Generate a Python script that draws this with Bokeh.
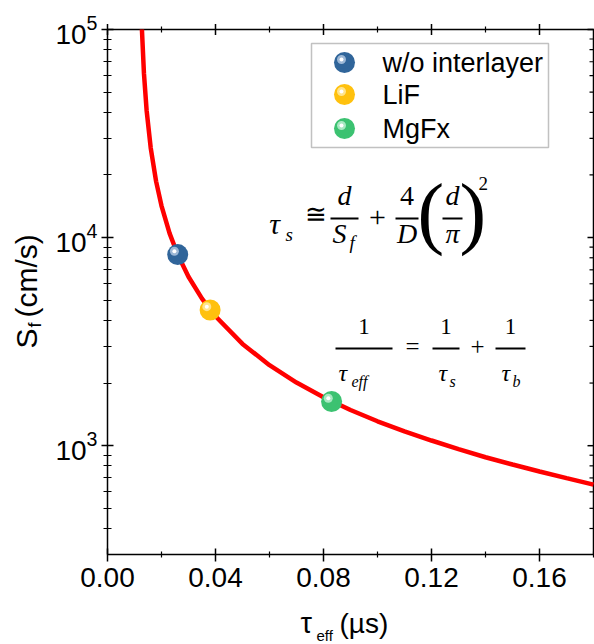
import math
from bokeh.plotting import figure
from bokeh.models import Range1d, FixedTicker, Label, BoxAnnotation, PrintfTickFormatter
from bokeh.embed import file_html
from bokeh.resources import INLINE

# ---------------- data ----------------
curve_tau = [0.01275, 0.0135, 0.0145, 0.016, 0.018, 0.020, 0.023, 0.026, 0.030, 0.035,
             0.040, 0.050, 0.060, 0.070, 0.080, 0.090, 0.100, 0.110, 0.120, 0.130,
             0.140, 0.150, 0.160, 0.170, 0.180]
curve_sf = [100000, 61500, 40700, 27000, 18630, 14210, 10480, 8290, 6480, 5090,
            4187, 3084, 2436, 2010, 1709, 1484, 1310, 1172, 1059, 962,
            880, 812, 752, 698, 650]

sample_names = ["w/o interlayer", "LiF", "MgFx"]
sample_tau = [0.026, 0.038, 0.083]
sample_sf = [8290, 4490, 1630]
sample_colors = ["#30659A", "#FFC10E", "#3CC271"]
sample_halo = ["#9DB8D6", "#FFE48C", "#A8E8C2"]

x_major = [0.0, 0.04, 0.08, 0.12, 0.16]
x_minor = [0.02, 0.06, 0.10, 0.14, 0.18]
y_major = [1e3, 1e4, 1e5]
y_minor = [400, 500, 600, 700, 800, 900,
           2000, 3000, 4000, 5000, 6000, 7000, 8000, 9000,
           20000, 30000, 40000, 50000, 60000, 70000, 80000, 90000]

X0, X1 = 0.0, 0.18
Y0, Y1 = 300, 1e5

# ---------------- layout (pixels of the 594x644 picture) ----------------
W, H = 594, 644
PL, PR, PT, PB = 107, 593, 29, 554      # plotting box edges
FW, FH = PR - PL, PB - PT

SANS = "Liberation Sans"
SERIF = "Liberation Serif"

# the frame covers the whole canvas; the axes sit at the plotting box via fixed_location
px_x = (X1 - X0) / FW
lf = math.log10(Y1 / Y0) / FH
xr = Range1d(X0 - PL * px_x, X1 + (W - PR) * px_x)
yr = Range1d(10 ** (math.log10(Y0) - (H - PB) * lf), 10 ** (math.log10(Y1) + PT * lf))

p = figure(width=W, height=H, x_range=xr, y_range=yr, y_axis_type="log",
           output_backend="svg", toolbar_location=None,
           min_border=0, min_border_left=0, min_border_right=0, min_border_top=0, min_border_bottom=0)
p.xgrid.visible = False
p.ygrid.visible = False
p.outline_line_color = None
p.background_fill_color = "white"
p.border_fill_color = "white"


def style_axis(ax, tin, tout, mtin, mtout):
    ax.axis_line_color = "black"
    ax.axis_line_width = 1.5
    ax.major_tick_line_color = "black"
    ax.major_tick_line_width = 1.5
    ax.minor_tick_line_color = "black"
    ax.minor_tick_line_width = 1.2
    ax.major_tick_in = tin
    ax.major_tick_out = tout
    ax.minor_tick_in = mtin
    ax.minor_tick_out = mtout
    ax.major_label_text_font = SANS
    ax.major_label_text_font_size = "28px"
    ax.major_label_text_color = "black"


xb = p.xaxis[0]
xb.ticker = FixedTicker(ticks=x_major, minor_ticks=x_minor)
xb.formatter = PrintfTickFormatter(format="%.2f")
xb.fixed_location = Y0
xb.bounds = (X0, X1)
style_axis(xb, 6, 7, 3, 3)
xb.major_label_standoff = 6

yl = p.yaxis[0]
yl.ticker = FixedTicker(ticks=y_major, minor_ticks=y_minor)
yl.fixed_location = X0
yl.bounds = (Y0, Y1)
style_axis(yl, 6, 6, 4, 4)
yl.major_label_standoff = 4

# top and right edges of the box, with mirrored ticks
p.segment(x0=[X0, X1], y0=[Y1, Y0], x1=[X1, X1], y1=[Y1, Y1], line_color="black", line_width=1.5)
p.scatter(x_major, [Y1] * len(x_major), marker="dash", angle=math.pi / 2, size=11,
          line_color="black", line_width=1.5)
p.scatter(x_minor[:-1], [Y1] * (len(x_minor) - 1), marker="dash", angle=math.pi / 2, size=6,
          line_color="black", line_width=1.2)
p.scatter([X1] * len(y_major), y_major, marker="dash", size=12, line_color="black", line_width=1.5)
p.scatter([X1] * len(y_minor), y_minor, marker="dash", size=8, line_color="black", line_width=1.2)

# ---------------- glyphs ----------------
p.line(curve_tau, curve_sf, line_color="#FF0000", line_width=4.5)

py_f = 10 ** lf
hx1 = [t - 1.2 * px_x for t in sample_tau]
hy1 = [s * py_f ** 1.2 for s in sample_sf]
hx2 = [t - 3.3 * px_x for t in sample_tau]
hy2 = [s * py_f ** 3.3 for s in sample_sf]

p.scatter(sample_tau, sample_sf, size=21, fill_color=sample_colors, line_color=None)
p.scatter(hx1, hy1, size=15, fill_color=sample_colors, line_color=None)
p.scatter(hx2, hy2, size=9, fill_color=sample_halo, line_color=None)
p.scatter(hx2, hy2, size=4, fill_color="white", line_color=None)


# ---------------- annotation helpers (picture pixels -> screen units, y from bottom) ----------------
BASE_SHIFT = 0.35   # distance (in em) from the text box middle to the alphabetic baseline


def T(text, px, py, size, italic=False, align="left", baseline="alphabetic", font=SERIF, angle=0.0):
    # (px, py) is the baseline point; place the box middle accordingly
    if baseline == "alphabetic":
        if angle == 0.0:
            py = py - BASE_SHIFT * size
        else:
            px = px - BASE_SHIFT * size
    p.add_layout(Label(x=px, y=H - py, x_units="screen", y_units="screen", text=text,
                       text_font=font, text_font_size=f"{size}px",
                       text_font_style="italic" if italic else "normal",
                       text_align=align, text_baseline="middle", text_color="black",
                       angle=angle))


def bar(px0, px1, py, th=2.0):
    p.add_layout(BoxAnnotation(left=px0, right=px1, top=H - py + th / 2, bottom=H - py - th / 2,
                               left_units="screen", right_units="screen", top_units="screen",
                               bottom_units="screen", fill_color="black", fill_alpha=1.0,
                               line_color=None))


def disc(cx, cy, r, color):
    p.add_layout(BoxAnnotation(left=cx - r, right=cx + r, top=H - cy + r, bottom=H - cy - r,
                               left_units="screen", right_units="screen", top_units="screen",
                               bottom_units="screen", fill_color=color, fill_alpha=1.0,
                               line_color=None, border_radius=int(math.ceil(r))))


# ---------------- legend ----------------
p.add_layout(BoxAnnotation(left=311, right=548, top=H - 43, bottom=H - 147,
                           left_units="screen", right_units="screen", top_units="screen",
                           bottom_units="screen", fill_color="white", fill_alpha=1.0,
                           line_color="#333333", line_width=1.5))
leg_y = [62, 94, 128]
for name, c, h, ly in zip(sample_names, sample_colors, sample_halo, leg_y):
    disc(344, ly, 10.5, c)
    disc(343, ly - 1, 7.5, c)
    disc(341, ly - 3, 4.5, h)
    disc(341, ly - 3, 2, "white")
    T(name, 382, ly, 27, align="left", baseline="middle", font=SANS)

# ---------------- equation 1 ----------------
T("τ", 274, 233, 30, italic=True, align="center")
T("s", 285, 241, 19, italic=True)
T("≅", 304, 223, 26)
bar(330, 358, 218)
T("d", 344, 205, 28, italic=True, align="center")
T("S", 332, 243, 28, italic=True)
T("f", 349, 249, 19, italic=True)
T("+", 377, 227, 30, align="center")
bar(395, 418, 218)
T("4", 406.5, 205, 28, align="center")
T("D", 406.5, 243, 28, italic=True, align="center")
T("(", 417, 239, 80)
bar(442, 462, 218)
T("d", 452, 205, 28, italic=True, align="center")
T("π", 452, 243, 28, italic=True, align="center")
T(")", 459, 239, 80)
T("2", 478, 190, 19)

# ---------------- equation 2 ----------------
bar(335, 392, 348)
T("1", 363.5, 334, 23, align="center")
T("τ", 338, 381, 24, italic=True)
T("eff", 351, 387, 16, italic=True)
T("=", 412, 355, 25, align="center")
bar(432, 459, 348)
T("1", 445.5, 334, 23, align="center")
T("τ", 438, 381, 24, italic=True)
T("s", 449, 387, 16, italic=True)
T("+", 477, 355, 25, align="center")
bar(495, 525, 348)
T("1", 510, 334, 23, align="center")
T("τ", 501, 381, 24, italic=True)
T("b", 512, 387, 16, italic=True)

# ---------------- axis titles ----------------
T("τ", 300, 633, 29, font=SANS)
T("eff", 316, 640, 15, font=SANS)
T("(µs)", 339, 633, 28, font=SANS)

T("S", 36, 348, 30, font=SANS, angle=math.pi / 2)
T("f", 41, 327, 18, font=SANS, angle=math.pi / 2)
T("(cm/s)", 36, 317, 30, font=SANS, angle=math.pi / 2)

open("out.html", "w").write(file_html(p, INLINE))
